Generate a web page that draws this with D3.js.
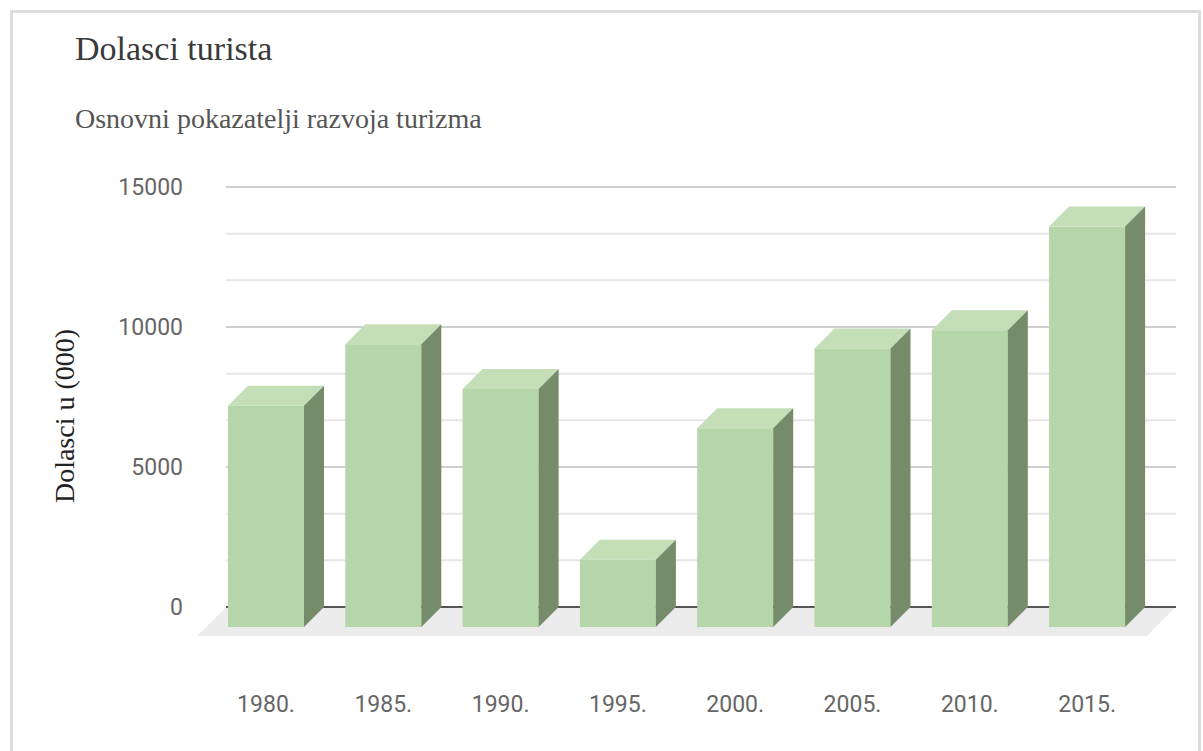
<!DOCTYPE html>
<html>
<head>
<meta charset="utf-8">
<script src="https://cdn.jsdelivr.net/npm/d3@7"></script>
<style>
  html, body { margin: 0; padding: 0; background: #fff; }
  svg { display: block; }
</style>
</head>
<body>
<svg id="chart" width="1203" height="751"></svg>
<script>
// ---- data ----
const categories = ["1980.", "1985.", "1990.", "1995.", "2000.", "2005.", "2010.", "2015."];
const values = [7900, 10100, 8500, 2400, 7100, 9950, 10600, 14300];
const yTicks = [0, 5000, 10000, 15000];
const yMax = 15000;
const minorCount = 9; // gridlines split each major step into 3
const title = "Dolasci turista";
const subtitle = "Osnovni pokazatelji razvoja turizma";
const yTitle = "Dolasci u (000)";

// ---- layout ----
const W = 1203, H = 751;
const depth = 20;          // 3D offset of bars
const floorDepth = 29;     // 3D offset of floor
const plotLeft = 226, plotRight = 1176;

const svg = d3.select("#chart");

// outer border
svg.append("rect")
  .attr("x", 11.5).attr("y", 11.5)
  .attr("width", 1188).attr("height", 760)
  .attr("fill", "none").attr("stroke", "#dcdcdc").attr("stroke-width", 3);

// scales (y on the back plane)
const y = d3.scaleLinear().domain([0, yMax]).range([607, 187]);
const x = d3.scaleBand().domain(categories)
  .range([207.35, 1145.75]).paddingInner(0.352).paddingOuter(0.176);

// gridlines
const gridVals = d3.range(minorCount + 1).map(i => i * yMax / minorCount);
svg.append("g").selectAll("line").data(gridVals).join("line")
  .attr("x1", plotLeft).attr("x2", plotRight)
  .attr("y1", d => y(d)).attr("y2", d => y(d))
  .attr("stroke", (d, i) => i % 3 === 0 ? "#cfcfcf" : "#e6e6e6")
  .attr("stroke-width", 2);

// floor
const y0 = y(0);
svg.append("polygon")
  .attr("points", [
    [plotLeft, y0], [plotRight, y0],
    [plotRight - floorDepth, y0 + floorDepth], [plotLeft - floorDepth, y0 + floorDepth]
  ].map(p => p.join(",")).join(" "))
  .attr("fill", "#ebebeb");

// zero line
svg.append("line")
  .attr("x1", plotLeft).attr("x2", plotRight)
  .attr("y1", y0).attr("y2", y0)
  .attr("stroke", "#555").attr("stroke-width", 2);

// bars
const data = categories.map((c, i) => ({ c, v: values[i] }));
const bw = x.bandwidth();
const bars = svg.append("g").selectAll("g").data(data).join("g");

bars.append("rect")
  .attr("x", d => x(d.c))
  .attr("y", d => y(d.v) + depth)
  .attr("width", bw)
  .attr("height", d => y(0) - y(d.v))
  .attr("fill", "#b5d6a8");

bars.append("polygon")
  .attr("points", d => {
    const x0 = x(d.c), yt = y(d.v) + depth;
    return [[x0, yt], [x0 + depth, yt - depth], [x0 + bw + depth, yt - depth], [x0 + bw, yt]]
      .map(p => p.join(",")).join(" ");
  })
  .attr("fill", "#c4deb8");

bars.append("polygon")
  .attr("points", d => {
    const x1 = x(d.c) + bw, yt = y(d.v) + depth, yb = y(0) + depth;
    return [[x1, yt], [x1 + depth, yt - depth], [x1 + depth, yb - depth], [x1, yb]]
      .map(p => p.join(",")).join(" ");
  })
  .attr("fill", "#768b69");

// y axis labels
const yAxis = svg.append("g")
  .attr("transform", `translate(${plotLeft},0)`)
  .call(d3.axisLeft(y).tickValues(yTicks).tickFormat(d3.format("d")).tickSize(0).tickPadding(43));
yAxis.select(".domain").remove();
yAxis.selectAll("text")
  .attr("font-family", "Roboto, sans-serif")
  .attr("font-size", 23)
  .attr("fill", "#666");

// x axis labels
const xAxis = svg.append("g")
  .attr("transform", `translate(0,${y0 + depth})`)
  .call(d3.axisBottom(x).tickSize(0).tickPadding(68.7));
xAxis.select(".domain").remove();
xAxis.selectAll("text")
  .attr("font-family", "Roboto, sans-serif")
  .attr("font-size", 23)
  .attr("fill", "#666");

// titles
svg.append("text")
  .attr("x", 75).attr("y", 60)
  .attr("font-family", "'Liberation Serif', 'Times New Roman', serif")
  .attr("font-size", 34)
  .attr("fill", "#3a3a3a")
  .text(title);

svg.append("text")
  .attr("x", 75).attr("y", 128)
  .attr("font-family", "'Liberation Serif', 'Times New Roman', serif")
  .attr("font-size", 28)
  .attr("fill", "#555")
  .text(subtitle);

svg.append("text")
  .attr("transform", "translate(74,416) rotate(-90)")
  .attr("text-anchor", "middle")
  .attr("font-family", "'Liberation Serif', 'Times New Roman', serif")
  .attr("font-size", 28)
  .attr("fill", "#222")
  .text(yTitle);
</script>
</body>
</html>
